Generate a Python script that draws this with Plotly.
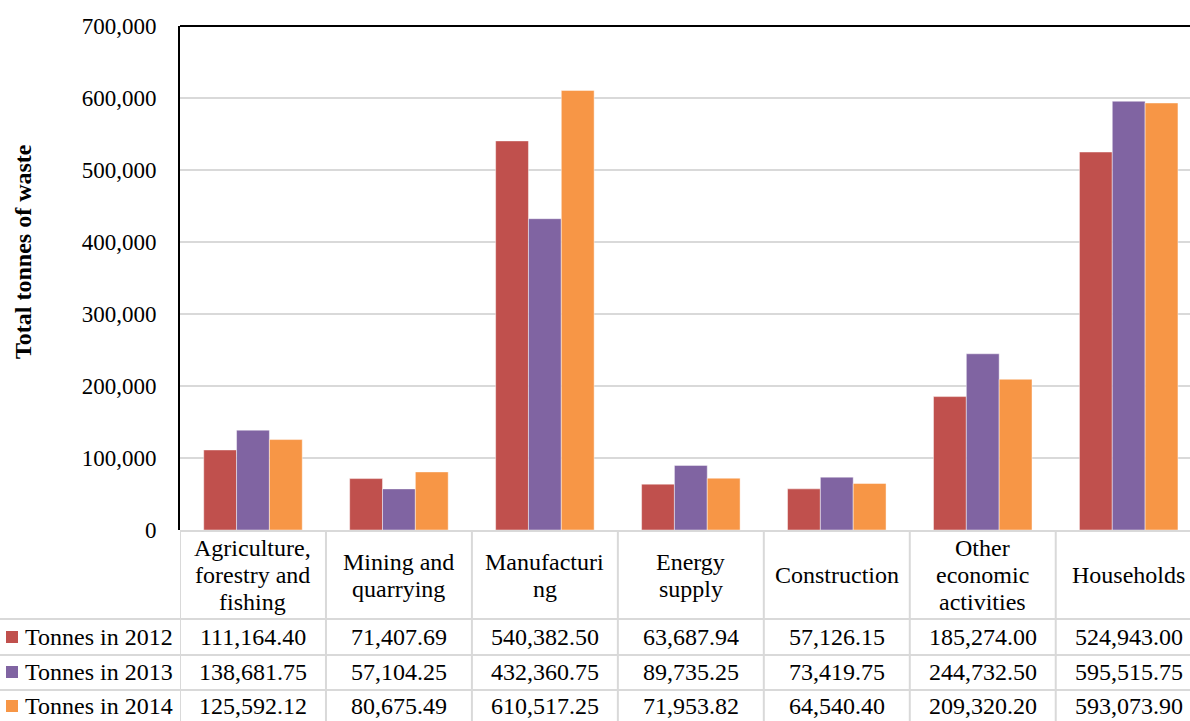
import plotly.graph_objects as go

# ---------------- data ----------------
categories = ["Agriculture, forestry and fishing", "Mining and quarrying", "Manufacturing",
              "Energy supply", "Construction", "Other economic activities", "Households"]
header_labels = ["Agriculture,<br>forestry and<br>fishing", "Mining and<br>quarrying", "Manufacturi<br>ng",
                 "Energy<br>supply", "Construction", "Other<br>economic<br>activities", "Households"]
series_names = ["Tonnes in 2012", "Tonnes in 2013", "Tonnes in 2014"]
tonnes_2012 = [111164.40, 71407.69, 540382.50, 63687.94, 57126.15, 185274.00, 524943.00]
tonnes_2013 = [138681.75, 57104.25, 432360.75, 89735.25, 73419.75, 244732.50, 595515.75]
tonnes_2014 = [125592.12, 80675.49, 610517.25, 71953.82, 64540.40, 209320.20, 593073.90]
y_tick_vals = [0, 100000, 200000, 300000, 400000, 500000, 600000, 700000]
y_tick_text = ["0", "100,000", "200,000", "300,000", "400,000", "500,000", "600,000", "700,000"]
y_title = "Total tonnes of waste"

series = [tonnes_2012, tonnes_2013, tonnes_2014]
colors = ["#C0504D", "#8064A2", "#F79646"]

# ---------------- geometry (layout only) ----------------
W, H = 1190, 721
L, T, B = 180, 26, 191
PLOT_H = H - T - B
PLOT_W = W - L
FONT = "Liberation Serif, Times New Roman, serif"
FS = 24
FS_TICK = 23
LINE_GAP = 27
GRID = "#D9D9D9"


def py(pix):
    return (H - B - pix) / PLOT_H


def px(pix):
    return (pix - L) / PLOT_W


fig = go.Figure()
for name, vals, col in zip(series_names, series, colors):
    fig.add_trace(go.Bar(x=categories, y=vals, name=name, marker_color=col,
                         marker_line=dict(color="rgba(255,255,255,0.45)", width=1)))

shapes = []
annotations = []

# top border
shapes.append(dict(type="line", xref="paper", yref="paper", x0=0, x1=1, y0=1, y1=1,
                   line=dict(color="black", width=2)))

# table horizontal lines
shapes.append(dict(type="line", xref="paper", yref="paper", x0=0, x1=1, y0=py(531), y1=py(531),
                   line=dict(color=GRID, width=2)))
row_lines = [619, 655, 690]
for r in row_lines:
    shapes.append(dict(type="line", xref="paper", yref="paper", x0=px(0), x1=1, y0=py(r), y1=py(r),
                       line=dict(color=GRID, width=2)))
# table vertical lines (category boundaries)
for i in range(len(categories) + 1):
    shapes.append(dict(type="line", xref="x", yref="paper", x0=i - 0.5, x1=i - 0.5,
                       y0=py(531), y1=py(H + 2), line=dict(color=GRID, width=2)))

# header text, one annotation per line for tight line spacing
HEADER_CENTER = 575
for cat, lab in zip(categories, header_labels):
    lines = lab.split("<br>")
    n = len(lines)
    for k, line in enumerate(lines):
        yc = HEADER_CENTER + (k - (n - 1) / 2) * LINE_GAP
        annotations.append(dict(xref="x", yref="paper", x=cat, y=py(yc), text=line, showarrow=False,
                                xanchor="center", yanchor="middle", align="center",
                                font=dict(family=FONT, size=FS, color="black")))

row_centers = [637, 672, 706]
for name, vals, col, rc in zip(series_names, series, colors, row_centers):
    shapes.append(dict(type="rect", xref="paper", yref="paper", x0=px(6), x1=px(18),
                       y0=py(rc - 6), y1=py(rc + 6), fillcolor=col, line=dict(width=0)))
    annotations.append(dict(xref="paper", yref="paper", x=px(23), y=py(rc), text=name,
                            showarrow=False, xanchor="left", yanchor="middle",
                            font=dict(family=FONT, size=FS, color="black")))
    for cat, v in zip(categories, vals):
        annotations.append(dict(xref="x", yref="paper", x=cat, y=py(rc), text=f"{v:,.2f}",
                                showarrow=False, xanchor="center", yanchor="middle",
                                font=dict(family=FONT, size=FS, color="black")))

# y title
annotations.append(dict(xref="paper", yref="paper", x=px(23), y=py(252), text=f"<b>{y_title}</b>",
                        textangle=-90, showarrow=False, xanchor="center", yanchor="middle",
                        font=dict(family=FONT, size=FS, color="black")))

fig.update_layout(
    width=W, height=H,
    margin=dict(l=L, r=0, t=T, b=B, pad=0),
    paper_bgcolor="white", plot_bgcolor="white",
    barmode="group", bargap=0.325, bargroupgap=0,
    showlegend=False,
    shapes=shapes, annotations=annotations,
    font=dict(family=FONT, size=FS, color="black"),
)
fig.update_xaxes(range=[-0.5, 6.42], showticklabels=False, showgrid=False, zeroline=False,
                 showline=False, ticks="")
fig.update_yaxes(range=[0, 700000], tickvals=y_tick_vals, ticktext=y_tick_text,
                 showgrid=True, gridcolor=GRID, gridwidth=2, zeroline=False,
                 showline=True, linecolor="black", linewidth=2, ticks="",
                 ticklabelstandoff=17, tickfont=dict(family=FONT, size=FS_TICK, color="black"))

fig.write_html("out.html")
